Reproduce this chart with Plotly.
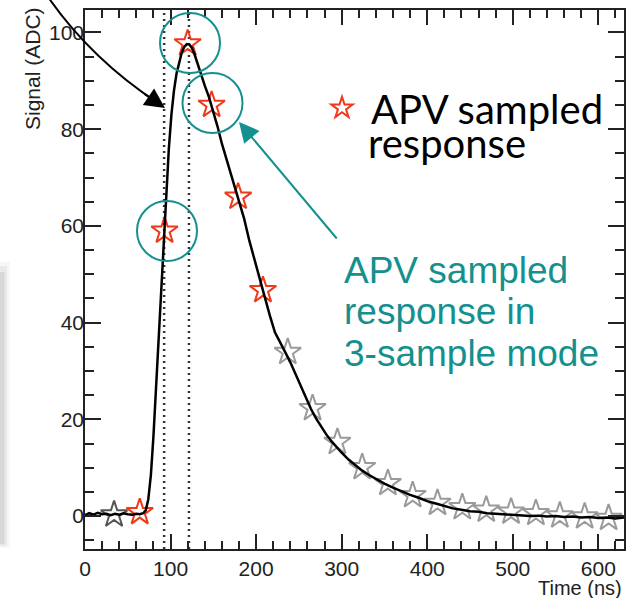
import plotly.graph_objects as go

# ---------------- data ----------------
curve_t = [0, 5, 10, 15, 20, 25, 30, 35, 40, 45, 50, 55, 60, 64, 68, 71, 74, 77, 80, 83, 86, 89,
           92, 95, 98, 101, 104, 107, 110, 113, 116, 119, 122, 125, 128, 131, 135, 140, 145, 150,
           155, 160, 165, 170, 175, 180, 186, 192, 198, 204, 210, 216, 222, 228, 234, 240, 246,
           252, 258, 264, 270, 276, 282, 288, 294, 300, 308, 316, 324, 332, 340, 350, 360, 370,
           380, 390, 400, 410, 420, 430, 440, 450, 460, 470, 480, 490, 500, 510, 520, 530, 540,
           550, 560, 570, 580, 590, 600, 610, 620, 630]
curve_y = [0.2, 0.6, 0.3, 0.7, 0.4, 0.5, 0.2, 0.5, 0.3, 0.6, 0.4, 0.3, 0.5, 0.4, 0.6, 1.2, 3.5,
           8.5, 16.5, 26.5, 36.0, 45.0, 56.0, 66.0, 76.0, 83.0, 88.0, 91.5, 94.0, 95.8, 97.0, 97.6,
           97.5, 96.8, 95.5, 93.8, 91.5, 89.0, 86.6, 83.8, 80.5, 77.0, 74.0, 71.0, 68.2, 65.3,
           61.5, 57.0, 53.0, 49.0, 45.2, 41.5, 38.0, 35.8, 33.9, 31.8, 29.3, 26.8, 24.4, 22.2,
           20.2, 18.4, 16.9, 15.5, 14.2, 13.1, 11.7, 10.5, 9.4, 8.5, 7.7, 6.7, 5.9, 5.1, 4.4, 3.8,
           3.1, 2.6, 2.1, 1.6, 1.3, 1.0, 0.9, 0.6, 0.5, 0.4, 0.2, 0.2, 0.0, 0.1, -0.1, 0.0, -0.2,
           -0.1, -0.3, -0.2, -0.4, -0.3, -0.5, -0.3]

first_t = [34]
first_y = [0.3]

red_t = [64, 93, 120, 148, 179, 208]
red_y = [0.8, 59.0, 97.7, 85.0, 66.0, 46.7]

tail_t = [237, 266, 295, 324, 354, 383, 412, 441, 469, 498, 527, 555, 584, 612]
tail_y = [33.9, 22.3, 15.3, 10.1, 6.8, 4.3, 2.7, 1.8, 1.3, 0.9, 0.6, 0.1, -0.1, -0.4]

dotted_t = [92.5, 121.5]

x_tick_step, x_minor_step = 100, 20
y_tick_step, y_minor_step = 20, 5

legend_line1 = "APV sampled"
legend_line2 = "response"
note_lines = ["APV sampled", "response in", "3-sample mode"]
x_title = "Time (ns)"
y_title = "Signal (ADC)"

# ---------------- styling / layout helpers ----------------
W, H = 636, 598
L, R, T, B = 85, 12, 10, 49
PW, PH = W - L - R, H - T - B
TEAL = "#14908f"
RED = "#f0381a"
AXF = "Liberation Sans, Arial, sans-serif"
TICKC = "#222222"


def px(x):
    return (x - L) / PW


def py(y):
    return (H - B - y) / PH


fig = go.Figure()

fig.add_trace(go.Scatter(x=first_t, y=first_y, mode="markers", showlegend=False,
                         marker=dict(symbol="star-open", size=20, color="#555555",
                                     line=dict(width=2, color="#555555"))))
fig.add_trace(go.Scatter(x=tail_t, y=tail_y, mode="markers", showlegend=False,
                         marker=dict(symbol="star-open", size=20, color="#9a9a9a",
                                     line=dict(width=2, color="#9a9a9a"))))
fig.add_trace(go.Scatter(x=red_t, y=red_y, mode="markers", name=" " + legend_line1,
                         showlegend=True,
                         marker=dict(symbol="star-open", size=20, color=RED,
                                     line=dict(width=2, color=RED))))
fig.add_trace(go.Scatter(x=curve_t, y=curve_y, mode="lines", showlegend=False,
                         line=dict(color="black", width=2.5)))

shapes = []
# dotted vertical lines
for t in dotted_t:
    shapes.append(dict(type="line", xref="x", yref="paper", x0=t, x1=t, y0=0, y1=1,
                       line=dict(color="#333333", width=2.5, dash="2px,4px"), layer="below"))
# teal circles around the 3 samples
for (cx, cy) in [(190, 43), (212.5, 103), (167, 231)]:
    r = 30
    shapes.append(dict(type="circle", xref="paper", yref="paper",
                       x0=px(cx - r), x1=px(cx + r), y0=py(cy + r), y1=py(cy - r),
                       line=dict(color=TEAL, width=2)))
# curved black arrow body (quadratic bezier)
p0, p1, p2 = (40, -15), (85, 55), (158, 103)
shapes.append(dict(type="path", xref="paper", yref="paper",
                   path="M %f,%f Q %f,%f %f,%f" % (px(p0[0]), py(p0[1]), px(p1[0]), py(p1[1]),
                                                   px(p2[0]), py(p2[1])),
                   line=dict(color="black", width=2)))
# grey box edge on the left
for (x1, y0, y1, op) in [(10, 548, 262, 0.08), (7, 546, 266, 0.14), (4.5, 544, 272, 0.2)]:
    shapes.append(dict(type="rect", xref="paper", yref="paper",
                       x0=px(-20), x1=px(x1), y0=py(y0), y1=py(y1),
                       line=dict(width=0), fillcolor="rgba(150,150,150,%f)" % op))

annotations = []
# axis titles
annotations.append(dict(text=y_title, xref="paper", yref="paper", x=px(32), y=py(69),
                        textangle=-90, showarrow=False, xanchor="center", yanchor="middle",
                        font=dict(family=AXF, size=21, color=TICKC)))
annotations.append(dict(text=x_title, xref="paper", yref="paper", x=px(624), y=py(588),
                        showarrow=False, xanchor="right", yanchor="middle",
                        font=dict(family=AXF, size=20, color=TICKC)))
# legend second line
annotations.append(dict(text=legend_line2, xref="paper", yref="paper", x=px(366), y=py(143),
                        showarrow=False, xanchor="left", yanchor="middle",
                        font=dict(family="Lato", size=40, color="black")))
# teal note
for i, s in enumerate(note_lines):
    annotations.append(dict(text=s, xref="paper", yref="paper", x=px(342), y=py(270 + 41.5 * i),
                            showarrow=False, xanchor="left", yanchor="middle",
                            font=dict(family=AXF, size=37, color=TEAL)))
# teal arrow
annotations.append(dict(text="", xref="paper", yref="paper", x=px(239), y=py(122),
                        ax=338 - 239, ay=240 - 122, showarrow=True, arrowhead=2,
                        arrowsize=2, arrowwidth=2, arrowcolor=TEAL))
# black arrow head
annotations.append(dict(text="", xref="paper", yref="paper", x=px(165), y=py(108),
                        ax=-22, ay=-15, showarrow=True, arrowhead=2,
                        arrowsize=2, arrowwidth=2, arrowcolor="black"))

axis_common = dict(showline=True, linecolor=TICKC, linewidth=1.5, mirror="ticks",
                   ticks="inside", tickcolor=TICKC, tickwidth=1.5, showgrid=False,
                   zeroline=False, tickmode="linear", tick0=0,
                   tickfont=dict(family=AXF, size=21, color=TICKC))

fig.update_layout(
    width=W, height=H, margin=dict(l=L, r=R, t=T, b=B, autoexpand=False),
    paper_bgcolor="white", plot_bgcolor="white",
    xaxis=dict(range=[0, 630], dtick=x_tick_step, ticklen=15,
               minor=dict(ticks="inside", tickmode="linear", dtick=x_minor_step, tick0=0,
                          ticklen=8, tickcolor=TICKC, tickwidth=1.5), **axis_common),
    yaxis=dict(range=[-6.8, 104.65], dtick=y_tick_step, ticklen=16, ticklabelstandoff=-5,
               minor=dict(ticks="inside", tickmode="linear", dtick=y_minor_step, tick0=0,
                          ticklen=9, tickcolor=TICKC, tickwidth=1.5), **axis_common),
    showlegend=True,
    legend=dict(x=px(322), y=py(108), xanchor="left", yanchor="middle",
                bgcolor="rgba(0,0,0,0)", borderwidth=0,
                font=dict(family="Lato", size=40, color="black")),
    shapes=shapes, annotations=annotations,
)

fig.write_html("out.html")
